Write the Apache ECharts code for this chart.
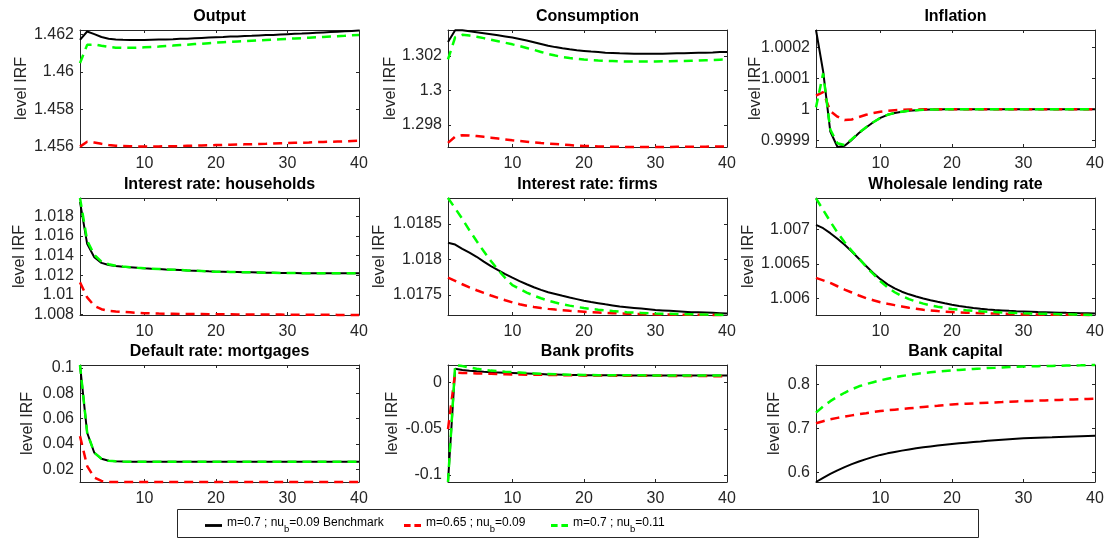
<!DOCTYPE html>
<html>
<head>
<meta charset="utf-8">
<script src="https://cdn.jsdelivr.net/npm/echarts@6/dist/echarts.min.js"></script>
<style>
  html, body { margin: 0; padding: 0; background: #fff; }
  #chart { width: 1107px; height: 541px; }
</style>
</head>
<body>
<div id="chart"></div>
<script>
// Impulse responses (levels) over 40 periods for three calibrations.
const periods = [1,2,3,4,5,6,7,8,9,10,11,12,13,14,15,16,17,18,19,20,
                 21,22,23,24,25,26,27,28,29,30,31,32,33,34,35,36,37,38,39,40];
const xTicks = [10, 20, 30, 40];

const seriesNames = [
  'm=0.7 ; nu_b=0.09 Benchmark',
  'm=0.65 ; nu_b=0.09',
  'm=0.7 ; nu_b=0.11'
];

const panelTitles = [
  'Output', 'Consumption', 'Inflation',
  'Interest rate: households', 'Interest rate: firms', 'Wholesale lending rate',
  'Default rate: mortgages', 'Bank profits', 'Bank capital'
];

// Output
const outputBench = [1.46170,1.46214,1.46200,1.46185,1.46176,1.46172,1.46170,1.46169,1.46169,1.46169,
  1.46170,1.46171,1.46172,1.46173,1.46175,1.46176,1.46178,1.46180,1.46182,1.46184,
  1.46185,1.46187,1.46188,1.46190,1.46191,1.46193,1.46195,1.46196,1.46198,1.46200,
  1.46202,1.46203,1.46205,1.46207,1.46209,1.46211,1.46213,1.46215,1.46217,1.46219];
const outputLowM = [1.45602,1.45628,1.45624,1.45617,1.45611,1.45607,1.45605,1.45604,1.45603,1.45603,
  1.45603,1.45603,1.45604,1.45604,1.45605,1.45606,1.45607,1.45608,1.45609,1.45610,
  1.45611,1.45612,1.45613,1.45614,1.45615,1.45616,1.45617,1.45619,1.45620,1.45621,
  1.45622,1.45623,1.45624,1.45626,1.45627,1.45628,1.45629,1.45630,1.45632,1.45633];
const outputHighNu = [1.46046,1.46143,1.46145,1.46138,1.46132,1.46128,1.46127,1.46127,1.46128,1.46130,
  1.46132,1.46134,1.46137,1.46139,1.46142,1.46144,1.46147,1.46149,1.46152,1.46155,
  1.46157,1.46159,1.46161,1.46163,1.46165,1.46167,1.46169,1.46171,1.46173,1.46175,
  1.46177,1.46179,1.46181,1.46183,1.46185,1.46187,1.46189,1.46191,1.46194,1.46196];
const outputTicks = [1.456, 1.458, 1.46, 1.462];
const outputRange = [1.456, 1.46222];

// Consumption
const consBench = [1.30281,1.30348,1.30348,1.30343,1.30337,1.30331,1.30325,1.30319,1.30313,1.30306,
  1.30298,1.30289,1.30279,1.30269,1.30259,1.30251,1.30244,1.30238,1.30233,1.30229,
  1.30225,1.30222,1.30219,1.30217,1.30215,1.30214,1.30213,1.30213,1.30213,1.30213,
  1.30213,1.30214,1.30215,1.30216,1.30217,1.30218,1.30219,1.30220,1.30222,1.30223];
const consLowM = [1.29697,1.29733,1.29741,1.29740,1.29736,1.29732,1.29727,1.29722,1.29717,1.29712,
  1.29708,1.29704,1.29700,1.29696,1.29693,1.29690,1.29687,1.29684,1.29681,1.29679,
  1.29678,1.29676,1.29675,1.29674,1.29674,1.29673,1.29673,1.29673,1.29673,1.29673,
  1.29673,1.29673,1.29674,1.29674,1.29674,1.29675,1.29675,1.29676,1.29676,1.29677];
const consHighNu = [1.30180,1.30308,1.30322,1.30318,1.30311,1.30303,1.30294,1.30285,1.30276,1.30267,
  1.30257,1.30246,1.30235,1.30223,1.30211,1.30202,1.30194,1.30188,1.30183,1.30179,
  1.30176,1.30173,1.30171,1.30170,1.30169,1.30168,1.30168,1.30168,1.30168,1.30168,
  1.30169,1.30169,1.30170,1.30171,1.30172,1.30173,1.30175,1.30176,1.30178,1.30180];
const consTicks = [1.298, 1.3, 1.302];
const consRange = [1.29673, 1.30350];

// Inflation
const inflBench = [1.000256,1.000122,0.999928,0.999878,0.999882,0.999901,0.999923,0.999941,0.999958,0.999972,
  0.999982,0.999988,0.999992,0.999995,0.999997,0.999998,0.999999,0.999999,1.000000,1.000000,
  1.000000,1.000000,1.000000,1.000000,1.000000,1.000000,1.000000,1.000000,1.000000,1.000000,
  1.000000,1.000000,1.000000,1.000000,1.000000,1.000000,1.000000,1.000000,1.000000,1.000000];
const inflLowM = [1.000044,1.000055,0.999994,0.999976,0.999965,0.999967,0.999975,0.999982,0.999988,0.999992,
  0.999995,0.999997,0.999998,0.999999,0.999999,1.000000,1.000000,1.000000,1.000000,1.000000,
  1.000000,1.000000,1.000000,1.000000,1.000000,1.000000,1.000000,1.000000,1.000000,1.000000,
  1.000000,1.000000,1.000000,1.000000,1.000000,1.000000,1.000000,1.000000,1.000000,1.000000];
const inflHighNu = [1.000006,1.000116,0.999934,0.999890,0.999884,0.999903,0.999924,0.999942,0.999958,0.999972,
  0.999982,0.999988,0.999992,0.999995,0.999997,0.999998,0.999999,0.999999,1.000000,1.000000,
  1.000000,1.000000,1.000000,1.000000,1.000000,1.000000,1.000000,1.000000,1.000000,1.000000,
  1.000000,1.000000,1.000000,1.000000,1.000000,1.000000,1.000000,1.000000,1.000000,1.000000];
const inflTicks = [0.9999, 1, 1.0001, 1.0002];
const inflRange = [0.999878, 1.000256];

// Interest rate: households
const rhBench = [1.01945,1.01519,1.01384,1.01326,1.01305,1.01295,1.01288,1.01282,1.01276,1.01271,
  1.01267,1.01264,1.01260,1.01257,1.01254,1.01250,1.01247,1.01244,1.01240,1.01237,
  1.01236,1.01234,1.01233,1.01231,1.01230,1.01229,1.01227,1.01226,1.01224,1.01223,
  1.01223,1.01222,1.01222,1.01221,1.01221,1.01221,1.01220,1.01220,1.01220,1.01220];
const rhLowM = [1.01128,1.00976,1.00890,1.00856,1.00839,1.00833,1.00829,1.00824,1.00819,1.00815,
  1.00813,1.00811,1.00810,1.00809,1.00808,1.00807,1.00806,1.00806,1.00805,1.00805,
  1.00804,1.00804,1.00803,1.00803,1.00802,1.00802,1.00801,1.00801,1.00801,1.00800,
  1.00800,1.00800,1.00799,1.00799,1.00799,1.00799,1.00798,1.00798,1.00798,1.00798];
const rhHighNu = [1.01985,1.01553,1.01407,1.01339,1.01312,1.01298,1.01289,1.01283,1.01277,1.01272,
  1.01267,1.01264,1.01260,1.01257,1.01254,1.01250,1.01247,1.01244,1.01240,1.01237,
  1.01236,1.01234,1.01233,1.01231,1.01230,1.01229,1.01227,1.01226,1.01224,1.01223,
  1.01223,1.01222,1.01222,1.01221,1.01221,1.01221,1.01220,1.01220,1.01220,1.01220];
const rhTicks = [1.008, 1.01, 1.012, 1.014, 1.016, 1.018];
const rhRange = [1.00797, 1.01985];

// Interest rate: firms
const rfBench = [1.018234,1.018210,1.018150,1.018095,1.018038,1.017970,1.017906,1.017850,1.017795,1.017744,
  1.017697,1.017652,1.017610,1.017573,1.017540,1.017515,1.017490,1.017466,1.017443,1.017420,
  1.017402,1.017386,1.017370,1.017355,1.017340,1.017330,1.017320,1.017310,1.017300,1.017290,
  1.017284,1.017278,1.017272,1.017266,1.017260,1.017257,1.017254,1.017250,1.017245,1.017240];
const rfLowM = [1.017744,1.017700,1.017652,1.017608,1.017568,1.017530,1.017494,1.017460,1.017428,1.017398,
  1.017372,1.017350,1.017332,1.017318,1.017306,1.017296,1.017287,1.017279,1.017272,1.017266,
  1.017260,1.017255,1.017250,1.017246,1.017242,1.017239,1.017236,1.017233,1.017231,1.017229,
  1.017228,1.017227,1.017226,1.017225,1.017224,1.017223,1.017222,1.017221,1.017221,1.017220];
const rfHighNu = [1.018864,1.018720,1.018570,1.018410,1.018260,1.018115,1.017980,1.017855,1.017740,1.017640,
  1.017585,1.017535,1.017492,1.017455,1.017422,1.017395,1.017372,1.017352,1.017334,1.017318,
  1.017305,1.017294,1.017284,1.017275,1.017267,1.017260,1.017254,1.017249,1.017244,1.017240,
  1.017238,1.017236,1.017234,1.017232,1.017230,1.017228,1.017226,1.017224,1.017222,1.017220];
const rfTicks = [1.0175, 1.018, 1.0185];
const rfRange = [1.01722, 1.018864];

// Wholesale lending rate
const wlBench = [1.007067,1.007019,1.006947,1.006865,1.006778,1.006680,1.006575,1.006470,1.006370,1.006280,
  1.006205,1.006145,1.006098,1.006060,1.006028,1.006000,1.005975,1.005952,1.005930,1.005910,
  1.005892,1.005876,1.005862,1.005850,1.005840,1.005832,1.005826,1.005820,1.005815,1.005811,
  1.005807,1.005803,1.005800,1.005797,1.005794,1.005791,1.005789,1.005787,1.005785,1.005783];
const wlLowM = [1.006298,1.006263,1.006226,1.006177,1.006129,1.006086,1.006043,1.006004,1.005975,1.005946,
  1.005923,1.005903,1.005884,1.005865,1.005851,1.005836,1.005827,1.005817,1.005808,1.005803,
  1.005798,1.005793,1.005790,1.005786,1.005783,1.005780,1.005778,1.005775,1.005772,1.005769,
  1.005768,1.005767,1.005766,1.005765,1.005764,1.005764,1.005763,1.005762,1.005761,1.005760];
const wlHighNu = [1.007452,1.007284,1.007115,1.006956,1.006815,1.006690,1.006580,1.006462,1.006355,1.006250,
  1.006160,1.006090,1.006035,1.005990,1.005955,1.005925,1.005900,1.005880,1.005862,1.005848,
  1.005837,1.005828,1.005820,1.005813,1.005807,1.005802,1.005797,1.005793,1.005789,1.005785,
  1.005782,1.005779,1.005777,1.005775,1.005772,1.005770,1.005768,1.005765,1.005763,1.005760];
const wlTicks = [1.006, 1.0065, 1.007];
const wlRange = [1.00576, 1.007457];

// Default rate: mortgages
const drBench = [0.1024,0.0489,0.0331,0.0284,0.0268,0.0263,0.0261,0.0260,0.0260,0.0260,
  0.0260,0.0260,0.0260,0.0260,0.0260,0.0260,0.0260,0.0260,0.0260,0.0260,
  0.0260,0.0260,0.0260,0.0260,0.0260,0.0260,0.0260,0.0260,0.0260,0.0260,
  0.0260,0.0260,0.0260,0.0260,0.0260,0.0260,0.0260,0.0260,0.0260,0.0260];
const drLowM = [0.0462,0.0226,0.0135,0.0108,0.0101,0.0100,0.0100,0.0100,0.0100,0.0100,
  0.0100,0.0100,0.0100,0.0100,0.0100,0.0100,0.0100,0.0100,0.0100,0.0100,
  0.0100,0.0100,0.0100,0.0100,0.0100,0.0100,0.0100,0.0100,0.0100,0.0100,
  0.0100,0.0100,0.0100,0.0100,0.0100,0.0100,0.0100,0.0100,0.0100,0.0100];
const drHighNu = [0.1024,0.0489,0.0331,0.0284,0.0268,0.0263,0.0261,0.0260,0.0260,0.0260,
  0.0260,0.0260,0.0260,0.0260,0.0260,0.0260,0.0260,0.0260,0.0260,0.0260,
  0.0260,0.0260,0.0260,0.0260,0.0260,0.0260,0.0260,0.0260,0.0260,0.0260,
  0.0260,0.0260,0.0260,0.0260,0.0260,0.0260,0.0260,0.0260,0.0260,0.0260];
const drTicks = [0.02, 0.04, 0.06, 0.08, 0.1];
const drRange = [0.0100, 0.1024];

// Bank profits
const bpBench = [-0.1072,0.0151,0.0138,0.0130,0.0123,0.0118,0.0114,0.0111,0.0108,0.0105,
  0.0102,0.0099,0.0096,0.0093,0.0090,0.0088,0.0086,0.0084,0.0083,0.0082,
  0.0081,0.0081,0.0080,0.0080,0.0080,0.0079,0.0079,0.0079,0.0079,0.0079,
  0.0079,0.0079,0.0079,0.0079,0.0079,0.0079,0.0079,0.0079,0.0079,0.0079];
const bpLowM = [-0.0504,0.0108,0.0106,0.0103,0.0100,0.0098,0.0096,0.0094,0.0092,0.0090,
  0.0089,0.0087,0.0086,0.0085,0.0084,0.0083,0.0082,0.0081,0.0080,0.0079,
  0.0078,0.0078,0.0077,0.0077,0.0076,0.0076,0.0075,0.0075,0.0074,0.0074,
  0.0074,0.0073,0.0073,0.0073,0.0072,0.0072,0.0072,0.0071,0.0071,0.0071];
const bpHighNu = [-0.1078,0.0192,0.0180,0.0165,0.0151,0.0140,0.0131,0.0124,0.0119,0.0115,
  0.0110,0.0105,0.0101,0.0097,0.0094,0.0091,0.0089,0.0087,0.0085,0.0084,
  0.0083,0.0082,0.0081,0.0081,0.0080,0.0080,0.0080,0.0080,0.0079,0.0079,
  0.0079,0.0079,0.0079,0.0079,0.0079,0.0079,0.0079,0.0079,0.0079,0.0079];
const bpTicks = [-0.1, -0.05, 0];
const bpRange = [-0.1078, 0.0192];

// Bank capital
const bcBench = [0.5785,0.5880,0.5970,0.6050,0.6124,0.6190,0.6250,0.6305,0.6355,0.6400,
  0.6435,0.6467,0.6497,0.6524,0.6550,0.6572,0.6593,0.6612,0.6630,0.6647,
  0.6663,0.6678,0.6692,0.6706,0.6721,0.6732,0.6743,0.6754,0.6765,0.6775,
  0.6781,0.6787,0.6793,0.6798,0.6804,0.6810,0.6816,0.6822,0.6828,0.6834];
const bcLowM = [0.7119,0.7165,0.7209,0.7240,0.7270,0.7297,0.7322,0.7346,0.7371,0.7396,
  0.7412,0.7427,0.7442,0.7457,0.7472,0.7487,0.7502,0.7516,0.7531,0.7546,
  0.7554,0.7561,0.7569,0.7576,0.7584,0.7591,0.7598,0.7606,0.7613,0.7620,
  0.7625,0.7631,0.7636,0.7642,0.7647,0.7652,0.7658,0.7663,0.7669,0.7674];
const bcHighNu = [0.7360,0.7500,0.7620,0.7720,0.7810,0.7888,0.7957,0.8005,0.8050,0.8092,
  0.8130,0.8162,0.8190,0.8215,0.8238,0.8258,0.8275,0.8290,0.8304,0.8317,
  0.8328,0.8339,0.8350,0.8360,0.8371,0.8378,0.8386,0.8393,0.8400,0.8407,
  0.8410,0.8413,0.8417,0.8420,0.8423,0.8427,0.8430,0.8433,0.8437,0.8440];
const bcTicks = [0.6, 0.7, 0.8];
const bcRange = [0.5785, 0.8440];

const panelValues = [
  [outputBench, outputLowM, outputHighNu],
  [consBench, consLowM, consHighNu],
  [inflBench, inflLowM, inflHighNu],
  [rhBench, rhLowM, rhHighNu],
  [rfBench, rfLowM, rfHighNu],
  [wlBench, wlLowM, wlHighNu],
  [drBench, drLowM, drHighNu],
  [bpBench, bpLowM, bpHighNu],
  [bcBench, bcLowM, bcHighNu]
];
const panelTicks = [outputTicks, consTicks, inflTicks, rhTicks, rfTicks, wlTicks, drTicks, bpTicks, bcTicks];
const panelRanges = [outputRange, consRange, inflRange, rhRange, rfRange, wlRange, drRange, bpRange, bcRange];

// ---- layout and styling ----
const SANS = "'Liberation Sans', Arial, Helvetica, sans-serif";
const AXIS_COLOR = '#262626';
const colLeft = [80, 448, 816];
const rowTop = [30, 198, 365];
const plotW = 279, plotH = 117;
const yNameGap = [50, 49, 52, 52, 60, 59, 44, 47, 33];
const lineColors = ['#000000', '#ff0000', '#00ff00'];
const lineWidths = [2, 2.5, 2.5];
const lineTypes = ['solid', [9, 6], [9, 6]];
// legend keys: a solid stroke and a two-dash stroke (18 x 3 boxes)
const legendIcons = [
  'path://M0,0H18V3H0Z',
  'path://M0,0H7V3H0Z M11,0H18V3H11Z',
  'path://M0,0H7V3H0Z M11,0H18V3H11Z'
];

const tickText = v => String(Number(Number(v).toPrecision(10)));

const axisLine = { show: true, onZero: false, lineStyle: { color: AXIS_COLOR, width: 1 } };
const tickStyle = { color: AXIS_COLOR, width: 1 };
const labelStyle = { color: AXIS_COLOR, fontFamily: SANS, fontSize: 16 };

const grid = [], title = [], xAxis = [], yAxis = [], series = [];

panelTitles.forEach((name, i) => {
  const r = Math.floor(i / 3), c = i % 3;
  grid.push({ left: colLeft[c], top: rowTop[r], width: plotW, height: plotH, containLabel: false, outerBoundsMode: 'none' });
  title.push({
    text: name, left: colLeft[c] + plotW / 2, top: rowTop[r] - 21, textAlign: 'center', padding: 0,
    textStyle: { fontFamily: SANS, fontSize: 16, fontWeight: 'bold', color: '#000' }
  });
  const [ymin, ymax] = panelRanges[i];
  const yt = panelTicks[i];
  // bottom and top x axes (top one only carries the mirrored ticks)
  xAxis.push({
    gridIndex: i, type: 'value', position: 'bottom', min: 1, max: 40,
    axisLine, splitLine: { show: false },
    axisTick: { show: true, inside: true, length: 3, customValues: xTicks, lineStyle: tickStyle },
    axisLabel: { show: true, customValues: xTicks, margin: 9, formatter: tickText, ...labelStyle }
  });
  xAxis.push({
    gridIndex: i, type: 'value', position: 'top', min: 1, max: 40,
    axisLine, splitLine: { show: false },
    axisTick: { show: true, inside: true, length: 3, customValues: xTicks, lineStyle: tickStyle },
    axisLabel: { show: false }
  });
  yAxis.push({
    gridIndex: i, type: 'value', position: 'left', min: ymin, max: ymax,
    name: 'level IRF', nameLocation: 'middle', nameGap: yNameGap[i], nameRotate: 90, nameMoveOverlap: false,
    nameTextStyle: { color: AXIS_COLOR, fontFamily: SANS, fontSize: 16 },
    axisLine, splitLine: { show: false },
    axisTick: { show: true, inside: true, length: 3, customValues: yt, lineStyle: tickStyle },
    axisLabel: { show: true, customValues: yt, margin: 6, formatter: tickText, ...labelStyle }
  });
  yAxis.push({
    gridIndex: i, type: 'value', position: 'right', min: ymin, max: ymax,
    axisLine, splitLine: { show: false },
    axisTick: { show: true, inside: true, length: 3, customValues: yt, lineStyle: tickStyle },
    axisLabel: { show: false }
  });
  panelValues[i].forEach((vals, k) => {
    series.push({
      name: seriesNames[k], type: 'line', xAxisIndex: 2 * i, yAxisIndex: 2 * i,
      data: periods.map((t, j) => [t, vals[j]]),
      showSymbol: false, symbol: 'none', clip: false, z: 2 + k,
      lineStyle: { color: lineColors[k], width: lineWidths[k], type: lineTypes[k] },
      itemStyle: { color: lineColors[k] }
    });
  });
});

const legendLabel = name => {
  const parts = name.split('nu_b');
  return '{n|' + parts[0] + 'nu}{s|b}{n|' + parts[1] + '}';
};
const legendLeft = [205, 404, 551];
const legend = seriesNames.map((n, k) => ({
  data: [{ name: n, icon: legendIcons[k] }],
  left: legendLeft[k], top: 517, padding: 0, itemGap: 0,
  itemWidth: 17, itemHeight: 3, selectedMode: false, z: 10,
  formatter: legendLabel,
  itemStyle: { color: lineColors[k], borderWidth: 0 },
  textStyle: {
    color: '#000', fontFamily: SANS, fontSize: 12,
    rich: {
      n: { fontFamily: SANS, fontSize: 12, color: '#000', verticalAlign: 'top' },
      s: { fontFamily: SANS, fontSize: 9.5, color: '#000', verticalAlign: 'bottom', padding: [7, 0, 0, 0] }
    }
  }
}));

const chart = echarts.init(document.getElementById('chart'), null, { renderer: 'canvas' });
chart.setOption({
  animation: false,
  backgroundColor: '#ffffff',
  grid, title, xAxis, yAxis, series, legend,
  graphic: [{
    type: 'rect', z: 1, silent: true,
    shape: { x: 177.5, y: 509.5, width: 801, height: 28 },
    style: { fill: '#ffffff', stroke: AXIS_COLOR, lineWidth: 1 }
  }]
});
</script>
</body>
</html>
